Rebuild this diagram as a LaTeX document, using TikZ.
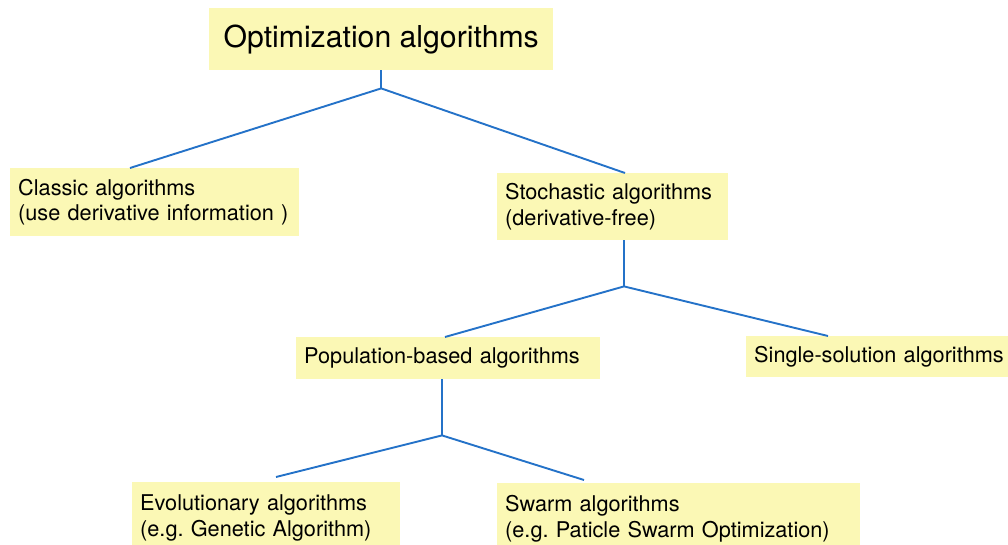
\documentclass[tikz,border=0pt]{standalone}
\usepackage{fontspec}
\setmainfont{TeX Gyre Heros}
\frenchspacing
\definecolor{boxfill}{HTML}{FBF8B5}
\definecolor{linkblue}{HTML}{2472C8}
\begin{document}
\begin{tikzpicture}[x=1pt,y=-1pt,
  box/.style={fill=boxfill, inner xsep=8pt, inner ysep=0pt, anchor=north west,
    align=left, font=\fontsize{21.7}{25.5}\selectfont},
  topbox/.style={fill=boxfill, inner sep=0pt, anchor=north west, align=center,
    minimum width=344pt, minimum height=62pt, font=\fontsize{30.2}{36}\selectfont},
  link/.style={draw=linkblue, line width=1.9pt}]
\useasboundingbox (0,0) rectangle (1008,545);
\clip (0,0) rectangle (1008,545);

% boxes
\node[topbox] (opt) at (209,8) {Optimization algorithms};
\node[box, text width=273pt, minimum height=68pt] (classic) at (10,168)
  {Classic algorithms\\(use derivative information )};
\node[box, text width=215pt, minimum height=67pt] (stoch) at (497,173)
  {Stochastic algorithms\\(derivative-free)};
\node[box, text width=288pt, minimum height=42pt] (pop) at (296,337)
  {Population-based algorithms};
\node[box, text width=260pt, minimum height=41pt] (single) at (746,336)
  {Single-solution algorithms};
\node[box, text width=252pt, minimum height=72pt] (evo) at (132,482)
  {Evolutionary algorithms\\(e.g. Genetic Algorithm)};
\node[box, text width=347pt, minimum height=71pt] (swarm) at (497,483)
  {Swarm algorithms\\(e.g. Paticle Swarm Optimization)};

% branch points and line ends
\coordinate (j1) at ([yshift=-18pt]opt.south);
\coordinate (cl-in) at ([xshift=120pt]classic.north west);
\coordinate (st-in) at ([xshift=128pt]stoch.north west);
\coordinate (st-out) at ([xshift=127pt]stoch.south west);
\coordinate (j2) at ([yshift=-46pt]st-out);
\coordinate (pop-in) at ([xshift=149pt]pop.north west);
\coordinate (sg-in) at ([xshift=82pt]single.north west);
\coordinate (pop-out) at ([xshift=146pt]pop.south west);
\coordinate (j3) at ([yshift=-56pt]pop-out);
\coordinate (evo-in) at ([xshift=144pt,yshift=5pt]evo.north west);
\coordinate (sw-in) at ([xshift=87pt,yshift=3pt]swarm.north west);

% connectors
\draw[link] (opt.south) -- (j1);
\draw[link] (cl-in) -- (j1) -- (st-in);
\draw[link] (st-out) -- (j2);
\draw[link] (pop-in) -- (j2) -- (sg-in);
\draw[link] (pop-out) -- (j3);
\draw[link] (evo-in) -- (j3) -- (sw-in);
\end{tikzpicture}
\end{document}
